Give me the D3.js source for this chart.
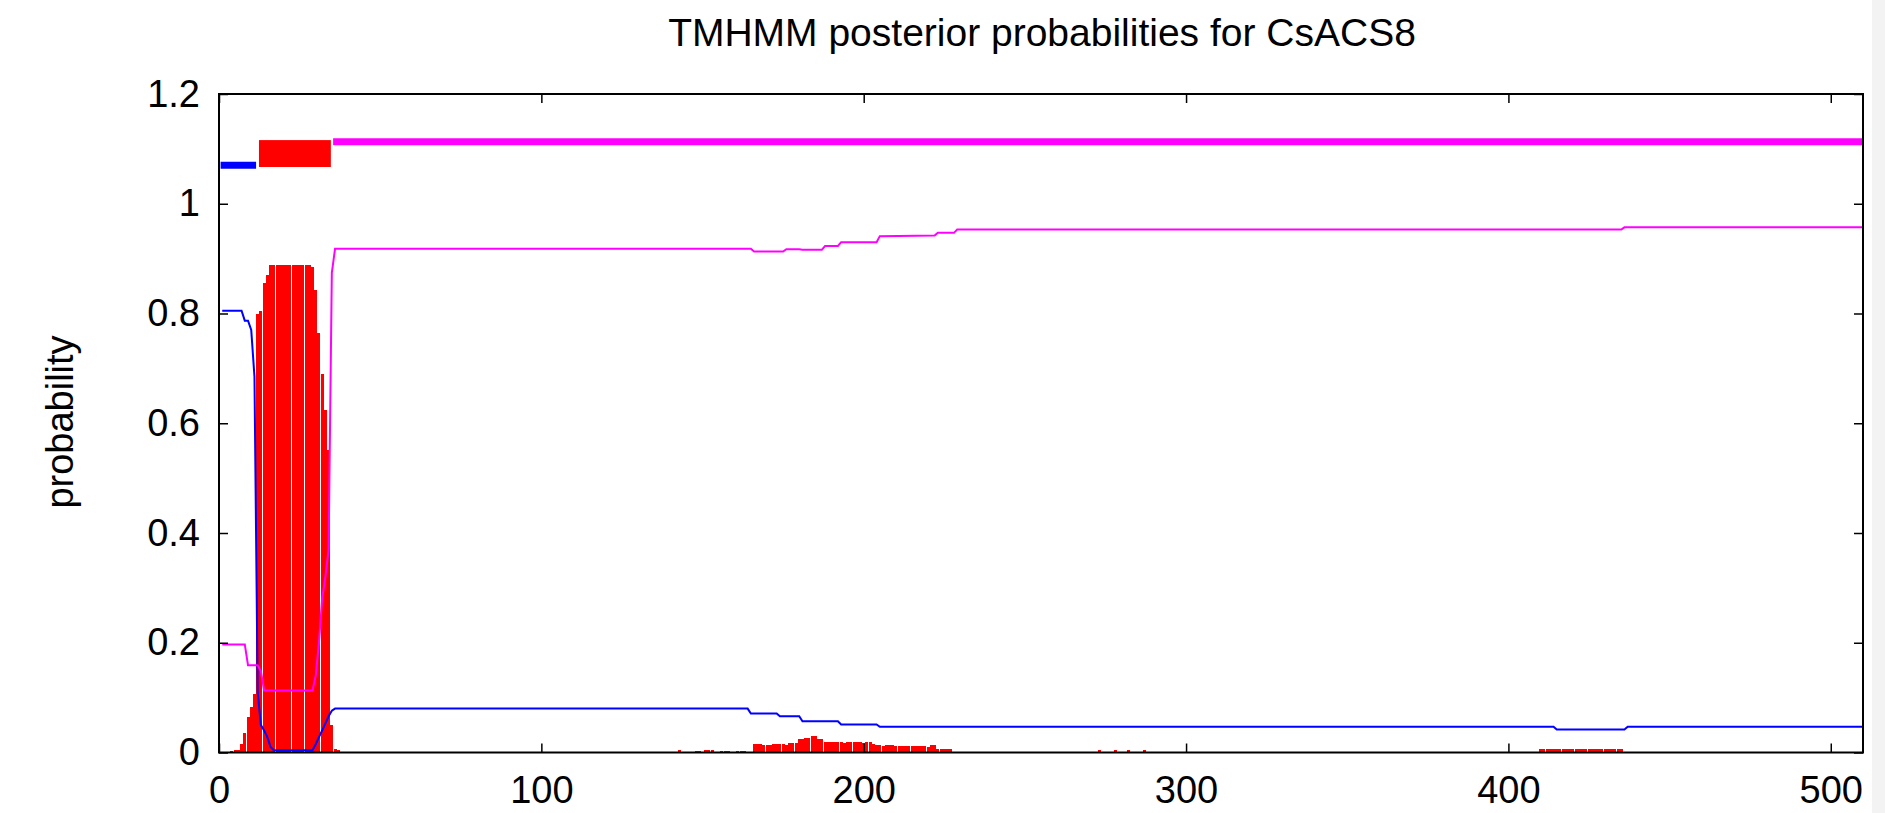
<!DOCTYPE html>
<html>
<head>
<meta charset="utf-8">
<script src="https://cdn.jsdelivr.net/npm/d3@7"></script>
<style>
  html, body { margin: 0; padding: 0; background: #fff; }
  svg { display: block; font-family: "Liberation Sans", Arial, Helvetica, sans-serif; }
</style>
</head>
<body>
<div id="chart"></div>
<script>
const title = "TMHMM posterior probabilities for CsACS8";
const yLabel = "probability";
const seqLength = 510;
const xTicks = [0, 100, 200, 300, 400, 500];
const yTicks = [0, 0.2, 0.4, 0.6, 0.8, 1, 1.2];
const yTickLabels = ["0", "0.2", "0.4", "0.6", "0.8", "1", "1.2"];

// predicted topology shown on top of the plot, [from, to] in residues
const insideSegs = [[0.5, 11.5]];
const tmSegs = [[12.4, 34.7]];
const outsideSegs = [[35.4, 510]];

// transmembrane posterior, one value per residue from the start residue
const tm1Start = 1;
const tm1 = [0, 0, 0, 0.002, 0.005, 0.005, 0.015, 0.035, 0.064, 0.083,
  0.107, 0.80, 0.805, 0.855, 0.87, 0.889, 0.889, 0.889, 0.889, 0.889,
  0.889, 0.889, 0.889, 0.889, 0.889, 0.889, 0.889, 0.889, 0.885, 0.843,
  0.765, 0.69, 0.624, 0.551, 0.05, 0.007, 0.005];
const tm2Start = 143;
const tm2 = [0.005, 0, 0, 0, 0, 0.003, 0.003, 0, 0.004, 0.004,
  0.004, 0, 0, 0.003, 0.003, 0.003, 0, 0, 0.003, 0.003,
  0.003, 0, 0, 0.016, 0.016, 0.016, 0.014, 0.014, 0.014, 0.015,
  0.015, 0.015, 0.015, 0.013, 0.017, 0.017, 0.017, 0.024, 0.024, 0.026,
  0.026, 0.030, 0.030, 0.024, 0.024, 0.020, 0.020, 0.020, 0.019, 0.019,
  0.019, 0.017, 0.019, 0.019, 0.019, 0.020, 0.020, 0.018, 0.019, 0.019,
  0.016, 0.013, 0.013, 0.012, 0.013, 0.013, 0.013, 0.011, 0.012, 0.012,
  0.012, 0.012, 0.012, 0.012, 0.011, 0.011, 0.011, 0.010, 0.013, 0.013,
  0.006, 0.006, 0.006, 0.006, 0.006];
const tm3Start = 273;
const tm3 = [0.004, 0, 0, 0, 0, 0.004, 0, 0, 0, 0.004, 0, 0, 0, 0, 0.004];
const tm4Start = 410;
const tm4 = [0.006, 0.006, 0.007, 0.006, 0.006, 0.007, 0.006, 0.006, 0.007, 0.006,
  0.006, 0.007, 0.006, 0.006, 0.007, 0.006, 0.006, 0.007, 0.006, 0.006,
  0.007, 0.006, 0.006, 0.007, 0.006, 0.006];

// inside / outside posterior, [residue, probability] vertices
const inside = [[1, 0.805], [7, 0.805], [8, 0.787], [9, 0.787], [10, 0.770],
  [11, 0.685], [12, 0.11], [13, 0.05], [14, 0.04], [15, 0.028], [16, 0.01],
  [17, 0.004], [29, 0.004], [30, 0.015], [31, 0.028], [32, 0.04], [33, 0.053],
  [34, 0.066], [35, 0.076], [36, 0.080], [164, 0.080], [165, 0.071], [173, 0.071],
  [174, 0.066], [180, 0.066], [181, 0.057], [192, 0.057], [193, 0.051], [204, 0.051],
  [205, 0.047], [414, 0.047], [415, 0.042], [436, 0.042], [437, 0.047], [510, 0.047]];
const outside = [[1, 0.197], [8, 0.197], [9, 0.159], [12, 0.159], [13, 0.148],
  [14, 0.113], [29, 0.113], [30, 0.14], [31, 0.20], [32, 0.28], [33, 0.32],
  [34, 0.37], [35, 0.874], [36, 0.918], [165, 0.918], [166, 0.913], [175, 0.913],
  [176, 0.917], [180, 0.917], [181, 0.916], [187, 0.916], [188, 0.923], [192, 0.923],
  [193, 0.930], [204, 0.930], [205, 0.941], [222, 0.942], [223, 0.947], [228, 0.947],
  [229, 0.953], [435, 0.953], [436, 0.957], [510, 0.957]];

const W = 1885, H = 813;
const margin = {top: 94, right: 22, bottom: 60.5, left: 219};
const width = W - margin.left - margin.right,
      height = H - margin.top - margin.bottom;

const svg = d3.select("#chart").append("svg")
    .attr("width", W)
    .attr("height", H);

svg.append("rect")
    .attr("x", 1872).attr("width", W - 1872).attr("height", H)
    .attr("fill", "#f3f3f3");

const g = svg.append("g")
    .attr("transform", `translate(${margin.left},${margin.top})`);

const x = d3.scaleLinear().domain([0, seqLength]).range([0, width]);
const y = d3.scaleLinear().domain([0, 1.2]).range([height, 0]);

// red impulses
const tmBars = [[tm1Start, tm1], [tm2Start, tm2], [tm3Start, tm3], [tm4Start, tm4]]
  .flatMap(([s, vals]) => vals.map((p, i) => ({res: s + i, p})))
  .filter(d => d.p > 0);

g.append("g")
    .attr("shape-rendering", "crispEdges")
  .selectAll("rect")
  .data(tmBars)
  .join("rect")
    .attr("x", d => x(d.res) - 1.5)
    .attr("width", 3)
    .attr("y", d => y(d.p))
    .attr("height", d => y(0) - y(d.p))
    .attr("fill", "#ff0000");

const line = d3.line()
    .x(d => x(d[0]))
    .y(d => y(d[1]));

g.append("path")
    .datum(inside)
    .attr("fill", "none")
    .attr("stroke", "#0000ff")
    .attr("stroke-width", 2)
    .attr("d", line);

g.append("path")
    .datum(outside)
    .attr("fill", "none")
    .attr("stroke", "#ff00ff")
    .attr("stroke-width", 2)
    .attr("d", line);

// topology bars
g.append("g").selectAll("line")
  .data(insideSegs)
  .join("line")
    .attr("x1", d => x(d[0])).attr("x2", d => x(d[1]))
    .attr("y1", y(1.07)).attr("y2", y(1.07))
    .attr("stroke", "#0000ff")
    .attr("stroke-width", 7);

g.append("g").selectAll("rect")
  .data(tmSegs)
  .join("rect")
    .attr("x", d => x(d[0]))
    .attr("width", d => x(d[1]) - x(d[0]))
    .attr("y", y(1.116))
    .attr("height", y(1.067) - y(1.116))
    .attr("fill", "#ff0000");

g.append("g").selectAll("line")
  .data(outsideSegs)
  .join("line")
    .attr("x1", d => x(d[0])).attr("x2", d => x(d[1]))
    .attr("y1", y(1.113)).attr("y2", y(1.113))
    .attr("stroke", "#ff00ff")
    .attr("stroke-width", 7);

// axes, ticks pointing inward on all four sides
function styleAxis(sel) {
  sel.select(".domain").remove();
  sel.selectAll(".tick line").attr("stroke", "#000").attr("stroke-width", 1.5);
  sel.selectAll(".tick text")
      .attr("fill", "#000")
      .style("font-size", "38px")
      .style("font-family", "'Liberation Sans', Arial, sans-serif");
}

g.append("g")
    .attr("transform", `translate(0,${height})`)
    .call(d3.axisBottom(x).tickValues(xTicks).tickSize(-9).tickPadding(23.5).tickFormat(d3.format("d")))
    .call(styleAxis);

g.append("g")
    .call(d3.axisTop(x).tickValues(xTicks).tickSize(-9).tickFormat(""))
    .call(styleAxis);

g.append("g")
    .call(d3.axisLeft(y).tickValues(yTicks).tickSize(-9).tickPadding(19)
      .tickFormat((d, i) => yTickLabels[i]))
    .call(styleAxis);

g.append("g")
    .attr("transform", `translate(${width},0)`)
    .call(d3.axisRight(y).tickValues(yTicks).tickSize(-9).tickFormat(""))
    .call(styleAxis);

g.append("rect")
    .attr("width", width)
    .attr("height", height)
    .attr("fill", "none")
    .attr("stroke", "#000")
    .attr("stroke-width", 2);

svg.append("text")
    .attr("x", 1042)
    .attr("y", 46)
    .attr("text-anchor", "middle")
    .style("font-size", "39px")
    .text(title);

svg.append("text")
    .attr("transform", "translate(60,422) rotate(-90)")
    .attr("text-anchor", "middle")
    .attr("dy", "0.35em")
    .style("font-size", "38px")
    .text(yLabel);
</script>
</body>
</html>
